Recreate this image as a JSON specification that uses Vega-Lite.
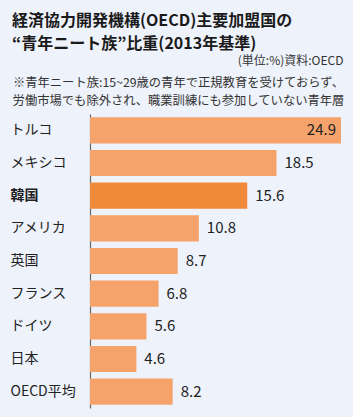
{
  "$schema": "https://vega.github.io/schema/vega-lite/v6.json",
  "width": 252,
  "height": 294,
  "autosize": {"type": "none"},
  "padding": {"left": 90, "top": 114, "right": 11, "bottom": 9},
  "background": "#eef2fa",
  "config": {"view": {"stroke": null}},
  "title": {
    "text": ["経済協力開発機構(OECD)主要加盟国の", "“青年ニート族”比重(2013年基準)"],
    "anchor": "start",
    "frame": "group",
    "dx": -78,
    "offset": 2,
    "font": "Noto Sans CJK JP",
    "fontSize": 16,
    "fontWeight": "bold",
    "lineHeight": 23,
    "color": "#1a1a1a"
  },
  "data": {
    "values": [
      {"country": "トルコ", "value": 24.9},
      {"country": "メキシコ", "value": 18.5},
      {"country": "韓国", "value": 15.6},
      {"country": "アメリカ", "value": 10.8},
      {"country": "英国", "value": 8.7},
      {"country": "フランス", "value": 6.8},
      {"country": "ドイツ", "value": 5.6},
      {"country": "日本", "value": 4.6},
      {"country": "OECD平均", "value": 8.2}
    ]
  },
  "encoding": {
    "y": {
      "field": "country",
      "type": "nominal",
      "sort": ["トルコ", "メキシコ", "韓国", "アメリカ", "英国", "フランス", "ドイツ", "日本", "OECD平均"],
      "scale": {"paddingInner": 0.2, "paddingOuter": 0.1},
      "axis": {
        "title": null,
        "labelAlign": "left",
        "labelPadding": 80,
        "ticks": false,
        "grid": false,
        "labelFont": "Noto Sans CJK JP",
        "labelFontSize": 14,
        "labelColor": "#222222",
        "labelFontWeight": {"condition": {"test": "datum.value === '韓国'", "value": "bold"}, "value": "normal"},
        "domainColor": "#666666",
        "domainWidth": 1.2
      }
    }
  },
  "resolve": {"axis": {"x": "independent"}},
  "layer": [
    {
      "mark": {"type": "bar"},
      "encoding": {
        "x": {
          "field": "value",
          "type": "quantitative",
          "scale": {"domain": [0, 25]},
          "axis": {
            "orient": "top",
            "title": ["※青年ニート族:15~29歳の青年で正規教育を受けておらず、", "労働市場でも除外され、職業訓練にも参加していない青年層"],
            "labels": false,
            "ticks": false,
            "domain": false,
            "grid": false,
            "titleX": 88,
            "titleY": -38,
            "titleAlign": "center",
            "titleBaseline": "top",
            "titleFont": "Noto Sans CJK JP",
            "titleFontSize": 12.3,
            "titleLineHeight": 18,
            "titleFontWeight": "normal",
            "titleColor": "#333333"
          }
        },
        "color": {"condition": {"test": "datum.country === '韓国'", "value": "#f0893a"}, "value": "#f5a36b"}
      }
    },
    {
      "transform": [{"filter": "datum.value >= 20"}],
      "mark": {"type": "text", "align": "right", "dx": -5, "font": "Noto Sans CJK JP", "fontSize": 15, "color": "#222222"},
      "encoding": {
        "x": {
          "field": "value",
          "type": "quantitative",
          "scale": {"domain": [0, 25]},
          "axis": {
            "orient": "top",
            "title": "(単位:%)資料:OECD",
            "labels": false,
            "ticks": false,
            "domain": false,
            "grid": false,
            "titleX": 253,
            "titleY": -50,
            "titleAlign": "right",
            "titleBaseline": "alphabetic",
            "titleFont": "Noto Sans CJK JP",
            "titleFontSize": 12,
            "titleFontWeight": "normal",
            "titleColor": "#333333"
          }
        },
        "text": {"field": "value", "type": "quantitative", "format": ".1f"}
      }
    },
    {
      "transform": [{"filter": "datum.value < 20"}],
      "mark": {"type": "text", "align": "left", "dx": 8, "font": "Noto Sans CJK JP", "fontSize": 15, "color": "#222222"},
      "encoding": {
        "x": {"field": "value", "type": "quantitative", "scale": {"domain": [0, 25]}, "axis": null},
        "text": {"field": "value", "type": "quantitative", "format": ".1f"}
      }
    }
  ]
}
